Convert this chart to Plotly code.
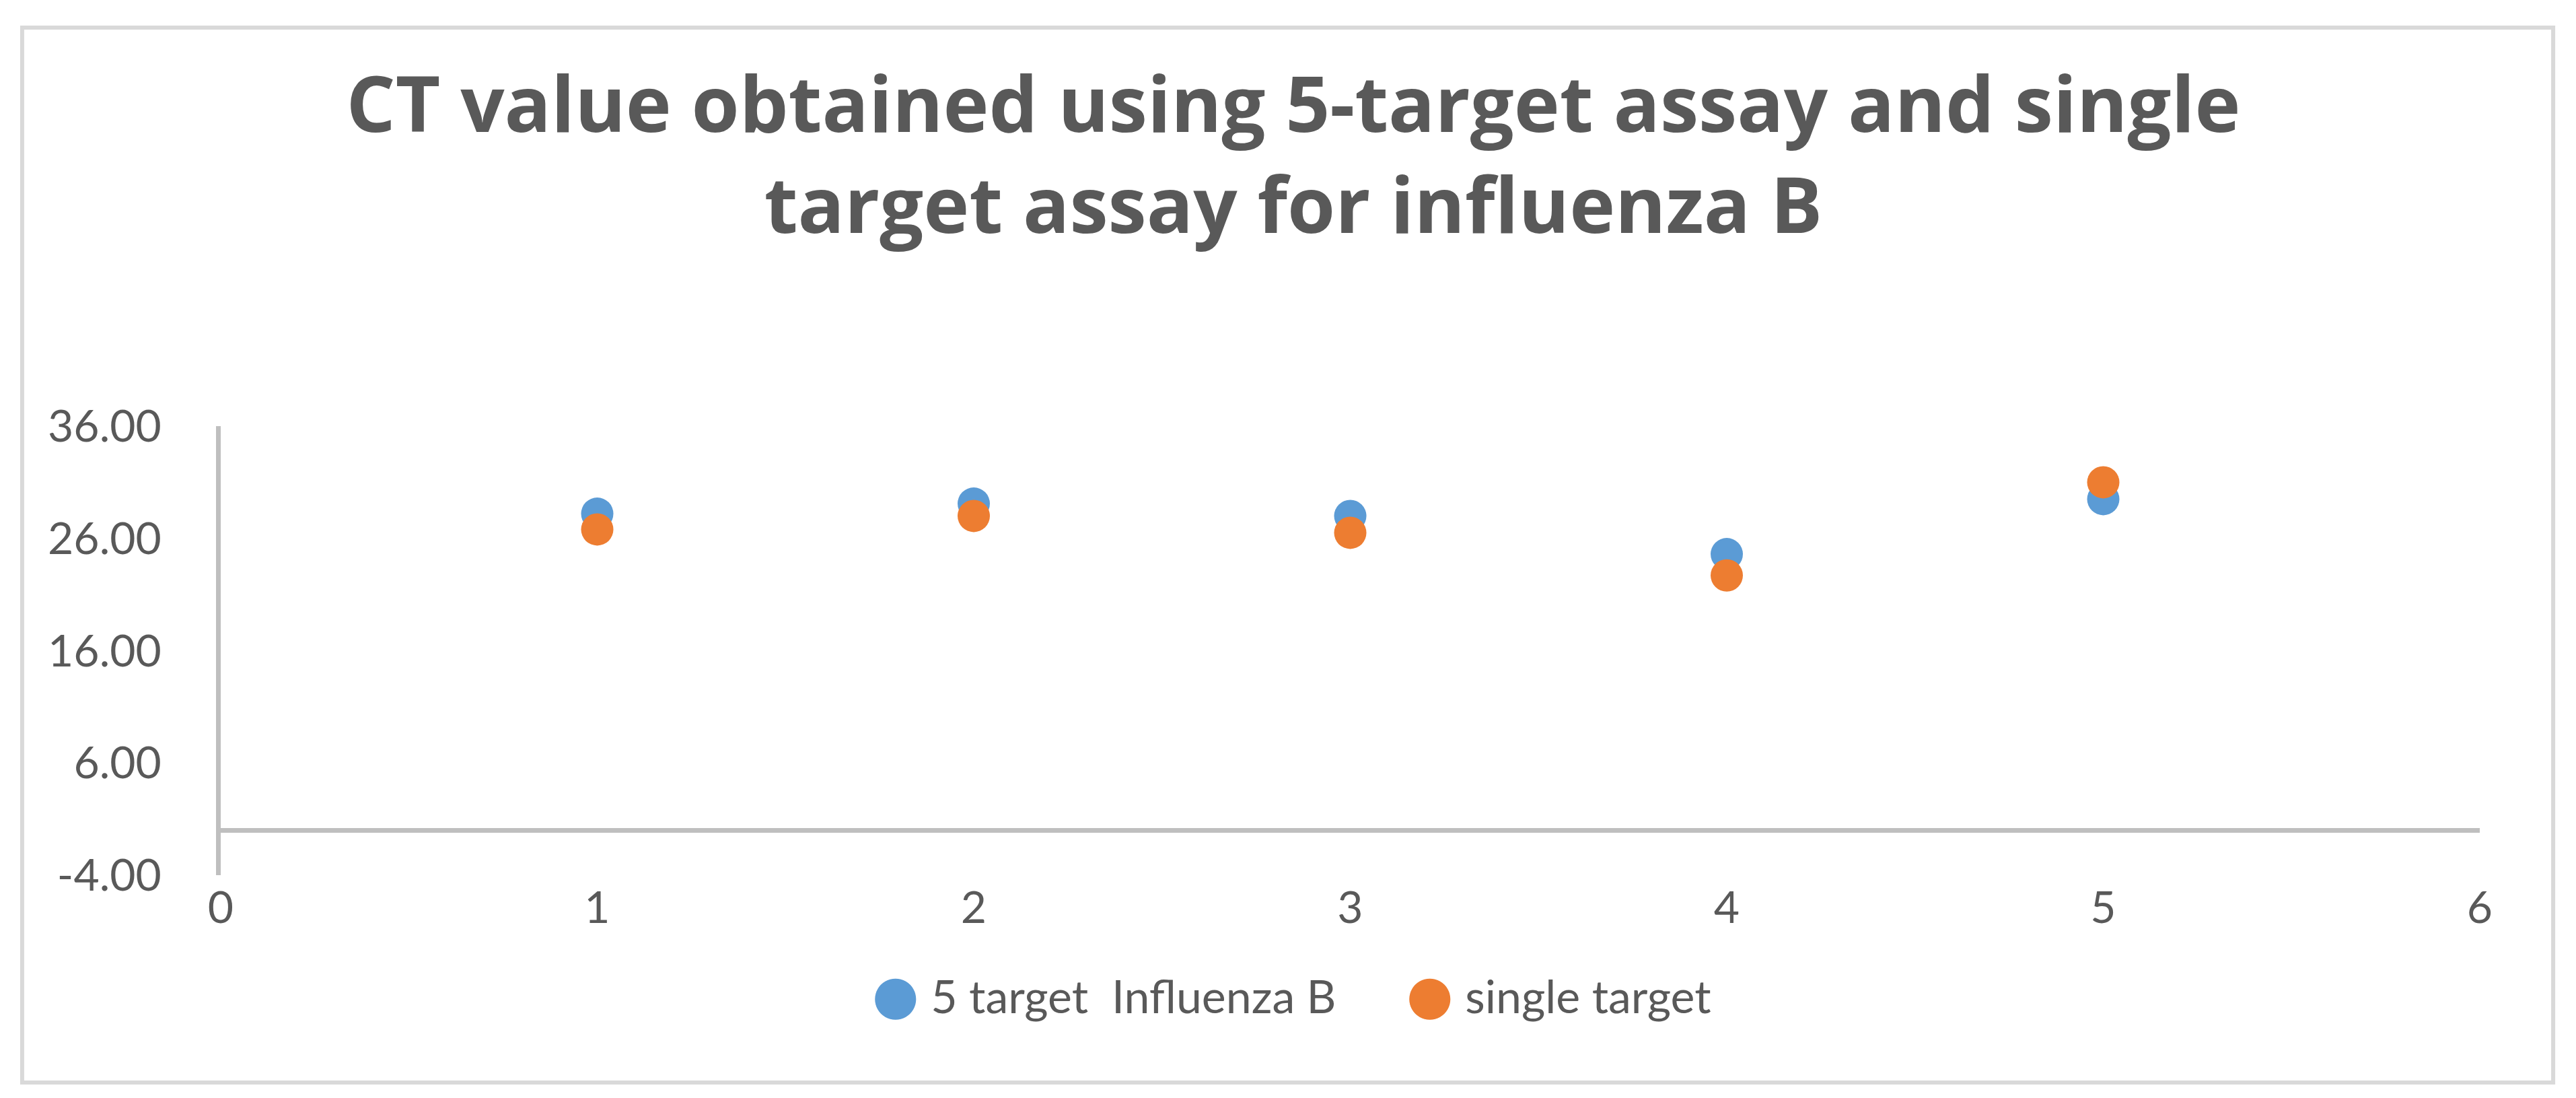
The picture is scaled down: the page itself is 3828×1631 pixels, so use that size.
import plotly.graph_objects as go

# 샘플 번호와 CT 값
sample_no = [1, 2, 3, 4, 5]
ct_5target = [28.2, 29.1, 28.0, 24.6, 29.5]
ct_single = [26.8, 28.0, 26.5, 22.7, 31.0]

name_5target = "5 target\u00a0 Influenza B"
name_single = "single target"
blue = "#5B9BD5"
orange = "#ED7D31"
text_gray = "#595959"
axis_gray = "#BFBFBF"

y_ticks = [-4, 6, 16, 26, 36]
x_ticks = [0, 1, 2, 3, 4, 5, 6]

fig = go.Figure()
fig.add_trace(go.Scatter(x=sample_no, y=ct_5target, mode="markers", name=name_5target,
                         marker=dict(color=blue, size=48), showlegend=False))
fig.add_trace(go.Scatter(x=sample_no, y=ct_single, mode="markers", name=name_single,
                         marker=dict(color=orange, size=48), showlegend=False))

# 범례: 마커가 큰 엑셀 스타일을 흉내내기 위해 주석으로 작성
dot = '<span style="font-family:DejaVu Sans;font-size:80px;color:{}">●</span>'
legend_text = (dot.format(blue) + "\u00a0" + name_5target + "\u00a0" * 6
               + dot.format(orange) + "\u00a0" + name_single)
fig.add_annotation(text=legend_text, xref="paper", yref="paper", x=0.474, y=-0.266,
                   xanchor="center", yanchor="middle", showarrow=False,
                   font=dict(family="Lato", size=68, color=text_gray))

# 차트 테두리
fig.add_shape(type="rect", xref="paper", yref="paper", x0=-0.0879, x1=1.0325,
              y0=-0.4618, y1=1.8876, line=dict(color="#D9D9D9", width=6), layer="below")

fig.update_layout(
    width=3828, height=1631, autosize=False,
    margin=dict(l=320, r=151, t=625, b=339),
    paper_bgcolor="white", plot_bgcolor="white",
    title=dict(text="CT value obtained using 5-target assay and single<br>target assay for influenza B",
               x=0.5, xref="container", xanchor="center",
               y=1 - 188 / 1631, yref="container", yanchor="top",
               font=dict(family="Open Sans", size=115, color=text_gray, weight="bold")),
    font=dict(family="Lato", color=text_gray),
)
fig.update_xaxes(range=[0, 6], tickvals=x_ticks, showgrid=False, zeroline=False, showline=False,
                 tickfont=dict(size=66, color=text_gray), ticks="", ticklabelstandoff=4)
fig.update_yaxes(range=[-4, 36], tickvals=y_ticks, ticktext=[f"{v:.2f}" for v in y_ticks],
                 showgrid=False, zeroline=True, zerolinecolor=axis_gray, zerolinewidth=7,
                 showline=True, linecolor=axis_gray, linewidth=7,
                 tickfont=dict(size=66, color=text_gray), ticks="", ticklabelstandoff=68)

fig.write_html("out.html")
